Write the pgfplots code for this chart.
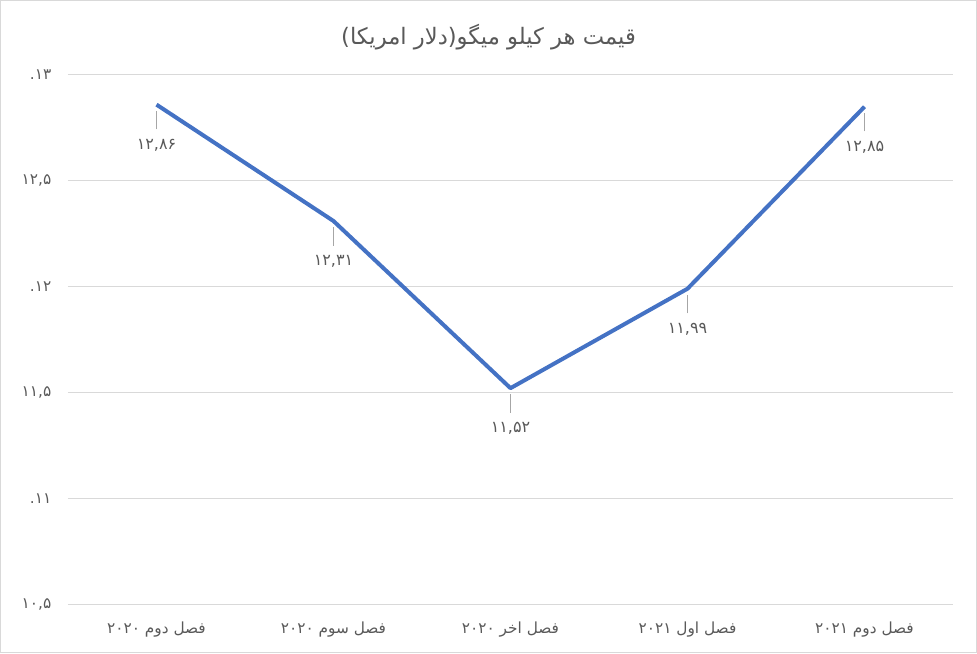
\documentclass[border=0pt]{standalone}
\usepackage{fontspec}
\usepackage{pgfplots}
\pgfplotsset{compat=1.18}
\TeXXeTstate=1
\newfontfamily\arabicfont[Script=Arabic]{DejaVu Sans}
\definecolor{linebl}{HTML}{4472C4}
\definecolor{txtgray}{HTML}{595959}
\definecolor{gridgray}{HTML}{D9D9D9}
\definecolor{leadgray}{HTML}{A6A6A6}
\begin{document}
\begin{tikzpicture}
\path[use as bounding box] (-51pt,-36.75pt) rectangle (681.75pt,453pt);
\draw[gridgray, line width=0.75pt] (-50.6pt,-36.4pt) rectangle (681.4pt,452.6pt);
\begin{axis}[
    scale only axis,
    width=663.75pt, height=396.75pt,
    xmin=-0.5, xmax=4.5, ymin=10.5, ymax=13,
    xtick={0,1,2,3,4},
    xticklabels={
      {\beginR فصل دوم \beginL۲۰۲۰\endL\endR},
      {\beginR فصل سوم \beginL۲۰۲۰\endL\endR},
      {\beginR فصل اخر \beginL۲۰۲۰\endL\endR},
      {\beginR فصل اول \beginL۲۰۲۱\endL\endR},
      {\beginR فصل دوم \beginL۲۰۲۱\endL\endR}},
    ytick={10.5,11,11.5,12,12.5,13},
    yticklabels={{۱۰,۵}, {۱۱.}, {۱۱,۵}, {۱۲.}, {۱۲,۵}, {۱۳.}},
    axis line style={draw=none},
    major tick length=0pt,
    ymajorgrids,
    grid style={gridgray, line width=0.75pt},
    tick label style={font=\arabicfont\fontsize{11.5}{13}\selectfont, text=txtgray},
    yticklabel style={xshift=-9pt},
    xticklabel style={yshift=-10pt},
    clip=false,
]
\addplot[linebl, line width=3pt, line join=round, mark=none,
    point meta=explicit symbolic,
    nodes near coords={\textcolor{leadgray}{\rule{0.75pt}{14pt}}\\[1pt]\pgfplotspointmeta},
    every node near coord/.append style={anchor=north, align=center, inner sep=0pt,
        yshift=-3pt, font=\arabicfont\fontsize{12}{14}\selectfont, text=txtgray}]
coordinates {
    (0,12.86) [۱۲,۸۶]
    (1,12.31) [۱۲,۳۱]
    (2,11.52) [۱۱,۵۲]
    (3,11.99) [۱۱,۹۹]
    (4,12.85) [۱۲,۸۵]
};
\end{axis}
\node[font=\arabicfont\fontsize{17}{20}\selectfont, text=txtgray] at (315.4pt,425.25pt)
    {\beginR قیمت هر کیلو میگو(دلار امریکا)\endR};
\end{tikzpicture}
\end{document}
